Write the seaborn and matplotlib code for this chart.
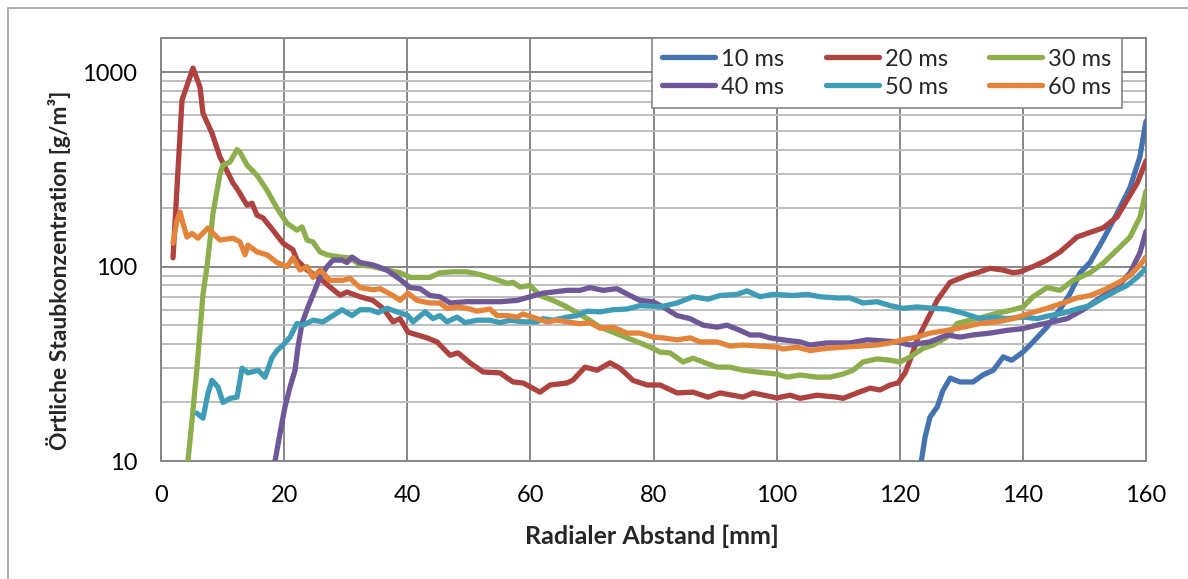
import numpy as np
import pandas as pd
import matplotlib
matplotlib.use("Agg")
import matplotlib.pyplot as plt
import seaborn as sns
from matplotlib.ticker import FixedLocator, NullFormatter, NullLocator
from matplotlib.lines import Line2D

# ---------------- data ----------------
series_labels = ["10 ms", "20 ms", "30 ms", "40 ms", "50 ms", "60 ms"]
series_colors = ["#4573B0", "#AE423F", "#8CAE4C", "#6F5898", "#3E9CB6", "#E4843A"]

x_10ms = [123.4, 124.1, 124.9, 126.1, 127.0, 128.2, 129.8, 131.9, 133.5, 135.2, 136.8, 138.2,
          140.0, 141.6, 143.9, 146.0, 147.7, 149.3, 150.9, 153.0, 155.3, 157.4, 159.0, 160.0]
y_10ms = [9.5, 13.2, 16.8, 19, 23, 26.7, 25.5, 25.5, 27.7, 29.3, 34.3, 33,
          36.3, 40.8, 48.8, 60, 73, 93, 105, 137, 188, 255, 366, 560]

x_20ms = [1.95, 3.41, 5.20, 6.34, 6.82, 8.28, 9.59, 11.70, 12.51, 13.97, 14.78, 15.59, 16.57,
          18.19, 19.82, 21.44, 22.09, 23.72, 25.83, 27.45, 29.08, 30.21, 32.33, 34.44, 36.06,
          37.69, 38.82, 40.12, 43.21, 44.83, 46.95, 48.25, 50.19, 52.31, 55.07, 57.18, 58.81,
          61.57, 63.19, 65.95, 66.93, 68.88, 70.83, 72.94, 74.56, 76.67, 78.95, 81.06, 83.82,
          86.42, 88.86, 90.81, 94.54, 96.17, 100.06, 102.18, 103.80, 106.56, 109.81, 110.79,
          113.06, 115.17, 116.80, 118.42, 119.72, 120.86, 121.67, 122.81, 124.43, 126.06,
          128.17, 130.93, 132.55, 134.67, 136.78, 138.40, 139.54, 141.65, 143.92, 146.04,
          148.80, 150.91, 153.02, 155.30, 156.92, 158.55, 160.0]
y_20ms = [111, 718, 1050, 837, 615, 486, 366, 269, 247, 207, 212, 184, 178,
          154, 132, 122, 108, 96, 87, 78.5, 71.3, 74, 70, 67, 61,
          52, 54, 46, 43, 41, 35, 36, 32, 28.7, 28.4, 25.5, 25.2,
          22.6, 24.6, 25.2, 26.1, 30.4, 29.3, 32, 30, 26, 24.6, 24.6, 22.4,
          22.6, 21.3, 22.4, 21.3, 22.4, 21.1, 21.8, 21, 21.8, 21.3, 21,
          22.4, 23.7, 23.2, 24.6, 25.2, 28.4, 33, 41.9, 53, 67,
          83, 90, 93, 98, 96, 93, 94, 100, 108, 119,
          142, 150, 158, 180, 220, 268, 350]

x_30ms = [4.3, 5.04, 5.85, 6.82, 7.47, 8.45, 9.58, 10.07, 11.21, 12.35, 12.83, 13.97, 15.59,
          17.22, 18.84, 20.47, 22.09, 22.90, 23.72, 24.69, 25.83, 26.97, 29.08, 30.70, 32.33,
          34.44, 36.71, 38.82, 40.45, 43.70, 45.32, 47.43, 49.71, 51.82, 53.93, 56.21, 57.18,
          58.32, 59.94, 61.57, 63.68, 65.95, 67.58, 69.20, 71.31, 73.42, 75.70, 77.81, 79.92,
          81.06, 82.68, 84.80, 86.42, 88.04, 90.32, 92.43, 94.54, 97.30, 100.06, 101.69,
          103.80, 106.56, 108.67, 110.79, 112.41, 114.03, 116.31, 118.42, 120.05, 121.67,
          123.78, 125.41, 127.68, 129.31, 131.42, 133.53, 135.80, 138.40, 140.03, 141.65,
          143.92, 146.04, 148.15, 150.91, 153.02, 155.30, 157.41, 159.03, 160.0]
y_30ms = [9.5, 16.2, 30.4, 72, 100, 188, 300, 333, 345, 400, 388, 333, 295,
          247, 200, 167, 154, 160, 137, 134, 119, 115, 112, 111, 102,
          100, 96, 93, 88, 88, 93, 94, 94, 91, 87, 82, 83,
          78.5, 80, 71, 67, 62, 58, 54, 48.8, 46, 43, 40.5, 38,
          36.3, 36, 32.3, 33.8, 32.3, 30.4, 30.4, 29.3, 28.6, 28, 27,
          27.7, 27, 27, 28, 29.3, 32.3, 33.5, 33, 32.3, 34.3,
          38, 39.5, 43.4, 51, 53, 55, 57.6, 60, 62, 70,
          78, 75.5, 85, 93, 104, 122, 142, 180, 245]

x_40ms = [18.4, 19.33, 20.14, 20.96, 21.77, 22.25, 22.90, 23.88, 25.02, 25.83, 26.97, 27.94,
          29.40, 30.21, 31.03, 32.33, 34.44, 36.71, 38.82, 40.45, 42.07, 43.70, 45.32, 46.95,
          49.71, 52.31, 55.07, 57.83, 59.94, 62.05, 63.68, 65.95, 68.06, 69.69, 71.80, 74.07,
          76.18, 77.81, 79.92, 81.55, 83.82, 85.93, 88.04, 90.32, 91.94, 94.05, 95.68, 97.30,
          98.93, 101.04, 103.80, 105.43, 108.19, 111.92, 114.68, 117.28, 119.56, 121.67,
          124.92, 127.68, 129.79, 131.90, 134.67, 137.43, 140.03, 142.30, 144.90, 147.17,
          149.77, 152.53, 155.30, 157.41, 159.03, 160.0]
y_40ms = [9.5, 13.9, 19, 24, 29.3, 38.5, 51, 62, 76, 88, 100, 108,
          108, 105, 112, 105, 102, 96, 86, 78, 77, 71, 70, 65,
          66, 66, 66, 67, 70, 73, 74, 75.5, 75.5, 78, 75.5, 77,
          71, 67, 66, 62, 56, 54, 50, 48.8, 50, 47, 44.5, 44.5,
          43, 42, 41, 39.5, 40.5, 40.5, 42, 41.5, 41, 39.5,
          41, 44.5, 43.4, 44.5, 45.5, 47, 48, 50, 52, 54,
          60, 69, 78, 93, 118, 152]

x_50ms = [5.85, 6.82, 7.63, 8.28, 9.26, 10.07, 11.21, 12.35, 13.16, 14.13, 15.76, 16.89,
          18.03, 18.84, 19.82, 20.96, 22.09, 23.07, 24.69, 26.32, 27.94, 29.40, 31.03, 32.33,
          33.95, 35.25, 36.71, 38.34, 40.12, 40.94, 42.89, 44.18, 45.32, 46.46, 48.08, 49.38,
          51.33, 53.44, 55.07, 56.69, 58.80, 61.08, 62.05, 63.68, 65.95, 67.58, 69.20, 71.31,
          73.42, 75.70, 77.81, 79.92, 81.06, 83.82, 86.42, 88.86, 90.81, 93.57, 95.19, 97.30,
          99.42, 102.66, 104.94, 107.05, 109.81, 111.92, 114.03, 116.31, 118.42, 120.53,
          122.81, 125.41, 127.68, 130.28, 133.04, 135.15, 137.43, 140.03, 142.30, 144.41,
          146.52, 148.80, 150.91, 153.02, 155.30, 156.92, 158.55, 160.0]
y_50ms = [17.6, 16.6, 22.3, 26, 24, 20, 21, 21.3, 30, 28.4, 29.3, 27,
          34, 37, 39.5, 43.4, 51, 50, 53, 52, 56, 60, 56, 60,
          60, 58, 61, 58.5, 56, 52, 58.5, 54, 56, 52, 55, 51.5,
          53, 53, 51.5, 53, 52, 52, 54, 53, 55, 56, 59, 58.5,
          60, 60.5, 63, 62.5, 62, 65, 70, 68, 71, 72, 75, 70,
          72, 71, 72, 70, 69, 69, 65, 66, 63, 61,
          62, 61, 60.5, 57.6, 54, 55, 54, 55, 54, 56,
          57.6, 60.5, 63, 69, 75.5, 80, 88, 98]

x_60ms = [1.95, 2.60, 3.09, 3.57, 4.22, 5.04, 6.01, 7.63, 8.77, 9.58, 11.70, 12.83, 13.65,
          14.13, 15.59, 17.22, 18.84, 20.47, 21.44, 22.58, 23.72, 24.69, 25.83, 27.45, 29.56,
          30.70, 32.33, 34.44, 35.58, 37.69, 38.82, 40.12, 41.59, 43.70, 45.32, 46.46, 48.08,
          49.71, 51.33, 53.44, 54.58, 56.21, 57.83, 58.81, 61.08, 62.70, 64.33, 65.95, 68.06,
          69.69, 71.31, 73.42, 75.70, 77.81, 79.92, 81.55, 83.82, 85.93, 87.56, 90.32, 92.43,
          94.54, 97.30, 100.06, 101.04, 103.31, 105.43, 108.19, 110.79, 113.55, 116.31,
          118.42, 120.53, 122.81, 124.92, 127.68, 130.28, 133.04, 135.80, 138.40, 141.16,
          143.92, 146.52, 148.80, 150.91, 153.02, 155.30, 157.41, 159.03, 160.0]
y_60ms = [132, 173, 191, 167, 142, 148, 140, 158, 145, 137, 140, 134, 115,
          129, 119, 115, 105, 100, 111, 96, 100, 88, 96, 85, 85,
          87, 78, 76, 77, 71, 67, 73, 67, 65, 65, 61, 62,
          61, 59, 60.5, 56, 56, 55, 57, 54, 52, 53, 52, 50.8,
          51.5, 48.2, 48.8, 45.5, 45.5, 43.4, 43, 42, 43, 41, 41, 39,
          39.5, 39, 38.5, 37.7, 38.5, 37, 38, 38.5, 39, 39.5,
          40.5, 42, 43.4, 45.5, 47, 48.8, 51, 52, 54, 57.6,
          61, 65, 69, 71, 75.5, 82, 90, 102, 112]

y_tick_values = [10, 100, 1000]
y_tick_labels = ["10", "100", "1000"]
x_tick_values = [0, 20, 40, 60, 80, 100, 120, 140, 160]

x_label = "Radialer Abstand [mm]"
y_label = "Örtliche Staubkonzentration [g/m³]"

# ---------------- build long table ----------------
xs = [x_10ms, x_20ms, x_30ms, x_40ms, x_50ms, x_60ms]
ys = [y_10ms, y_20ms, y_30ms, y_40ms, y_50ms, y_60ms]
frames = []
for lab, xv, yv in zip(series_labels, xs, ys):
    frames.append(pd.DataFrame({"mm": xv, "conc": yv, "series": lab}))
df = pd.concat(frames, ignore_index=True)

# ---------------- style ----------------
sns.set_theme(style="white")
plt.rcParams["font.family"] = ["Lato", "DejaVu Sans"]

fig = plt.figure(figsize=(11.88, 5.79), dpi=100)
ax = fig.add_axes([161 / 1188, 1 - 461 / 579, (1146 - 161) / 1188, (461 - 38) / 579])

palette = dict(zip(series_labels, series_colors))
sns.lineplot(data=df, x="mm", y="conc", hue="series", hue_order=series_labels,
             palette=palette, estimator=None, sort=False, linewidth=3.8,
             legend=False, ax=ax, solid_capstyle="round", solid_joinstyle="round",
             zorder=3)

ax.set_yscale("log")
ax.set_ylim(10, 1500)
ax.set_xlim(0, 160)

ax.yaxis.set_major_locator(FixedLocator(y_tick_values))
ax.set_yticklabels(y_tick_labels)
minor = [m * d for d in (10, 100, 1000) for m in range(2, 10) if m * d < 1500]
ax.yaxis.set_minor_locator(FixedLocator(minor))
ax.yaxis.set_minor_formatter(NullFormatter())
ax.xaxis.set_major_locator(FixedLocator(x_tick_values))
ax.xaxis.set_minor_locator(NullLocator())

ax.grid(which="minor", axis="y", color="#BEBEBE", linewidth=1.4, zorder=0)
ax.grid(which="major", axis="both", color="#868686", linewidth=1.4, zorder=1)
ax.set_axisbelow(True)
for sp in ax.spines.values():
    sp.set_color("#868686")
    sp.set_linewidth(1.4)

ax.tick_params(axis="both", which="both", length=0, labelsize=17, colors="black")
ax.tick_params(axis="x", pad=17)
ax.tick_params(axis="y", pad=17)

ax.set_xlabel(x_label, fontsize=18, fontweight="bold")
ax.set_ylabel(y_label, fontsize=16.5, fontweight="bold")
ax.xaxis.set_label_coords(0.4985, -0.150)
ax.yaxis.set_label_coords(-0.091, 0.4515)

# legend filled row-wise like the reference (matplotlib fills column-wise)
order = [0, 3, 1, 4, 2, 5]
handles = [Line2D([0], [0], color=series_colors[i], linewidth=3.8, solid_capstyle="round")
           for i in order]
labels = [series_labels[i] for i in order]
leg = ax.legend(handles, labels, ncol=3, loc="upper right",
                bbox_to_anchor=((1122 - 161) / 985, 1.0), borderaxespad=0,
                fontsize=17, frameon=True, fancybox=False, framealpha=1,
                edgecolor="#868686", handlelength=2.25, handletextpad=0.25,
                columnspacing=1.75, labelspacing=0.3, borderpad=0.45)
leg.get_frame().set_linewidth(1.2)
leg.set_zorder(5)

# outer chart border (only left/top visible in reference)
fig.add_artist(Line2D([8 / 1188, 8 / 1188], [0, 1 - 8 / 579], color="#A6A6A6", linewidth=1.3))
fig.add_artist(Line2D([8 / 1188, 1], [1 - 8 / 579, 1 - 8 / 579], color="#A6A6A6", linewidth=1.3))

fig.savefig("out.png", dpi=100)
